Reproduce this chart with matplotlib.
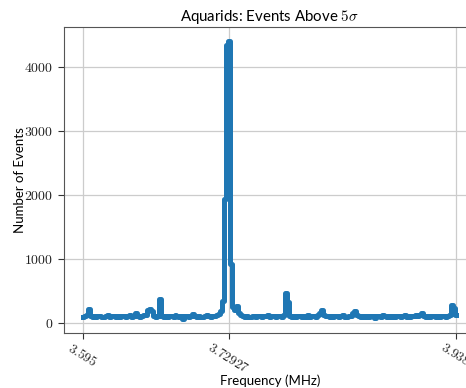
import numpy as np
import matplotlib
matplotlib.use("Agg")
import matplotlib.pyplot as plt

# Frequency grid (MHz) and event counts
freq_start = 3.595
freq_stop = 3.938
counts = [
    95, 110, 120, 210, 105, 98, 112, 90, 104, 115,
    100, 92, 108, 118, 96, 103, 111, 88, 107, 99,
    114, 101, 93, 109, 120, 97, 105, 150, 112, 95,
    104, 118, 130, 200, 210, 180, 115, 100, 108, 380,
    110, 96, 104, 90, 113, 102, 99, 130, 107, 94,
    111, 60, 105, 116, 92, 103, 140, 109, 97, 112,
    100, 94, 108, 119, 101, 96, 113, 105, 122, 140,
    180, 350, 1930, 4330, 4400, 920, 250, 200, 270, 150,
    118, 104, 97, 110, 100, 93, 107, 115, 98, 104,
    112, 95, 101, 109, 120, 96, 103, 110, 94, 106,
    113, 100, 118, 470, 330, 112, 97, 105, 99, 116,
    102, 94, 109, 100, 117, 96, 104, 111, 98, 130,
    160, 200, 125, 101, 108, 95, 114, 99, 106, 112,
    93, 104, 119, 100, 97, 110, 102, 150, 190, 120,
    105, 96, 113, 100, 108, 94, 115, 102, 70, 111,
    106, 97, 118, 103, 95, 109, 100, 114, 98, 107,
    112, 96, 104, 120, 99, 108, 93, 110, 101, 117,
    104, 120, 150, 106, 98, 112, 95, 103, 109, 100,
    116, 97, 105, 111, 94, 108, 130, 280, 230, 120,
]
freqs = np.linspace(freq_start, freq_stop, len(counts))

xtick_vals = [3.595, 3.72927, 3.938]
xtick_labels = ["$3.595$", "$3.72927$", "$3.938$"]
ytick_vals = [0, 1000, 2000, 3000, 4000]
ytick_labels = ["$0$", "$1000$", "$2000$", "$3000$", "$4000$"]

plt.rcParams["mathtext.fontset"] = "cm"
plt.rcParams["font.family"] = ["Lato", "DejaVu Sans"]
plt.rcParams["path.simplify"] = False

fig = plt.figure(figsize=(4.66, 3.88), dpi=100)
ax = fig.add_axes([64 / 466, 55 / 388, (474.6 - 64) / 466, 306 / 388])

ax.grid(True, color="#cccccc", linewidth=0.9, zorder=0)
ax.set_axisbelow(True)
ax.plot(freqs, counts, color="#1f77b4", linewidth=3.6, drawstyle="steps-mid",
        zorder=3)

ax.set_xticks(xtick_vals)
ax.set_xticklabels(xtick_labels, rotation=-32, fontsize=9.5)
ax.set_yticks(ytick_vals)
ax.set_yticklabels(ytick_labels, fontsize=10)

for s in ax.spines.values():
    s.set_color("#555555")
ax.tick_params(colors="#333333", length=4, width=0.8)
ax.tick_params(axis="x", pad=1)
for lbl in ax.get_xticklabels() + ax.get_yticklabels():
    lbl.set_color("#222222")

ax.set_xlabel("Frequency (MHz)", fontsize=9.5)
ax.set_ylabel("Number of Events", fontsize=9.5)
ax.xaxis.set_label_coords((270 - 64) / 410.6, (333 - 387) / 306)
ax.xaxis.label.set_va("bottom")
ax.yaxis.set_label_coords((26 - 64) / 410.6, 0.5)
ax.yaxis.label.set_va("bottom")
ax.set_title(r"Aquarids: Events Above $5\sigma$", fontsize=10.8, pad=4)

fig.savefig("out.png", dpi=100)
